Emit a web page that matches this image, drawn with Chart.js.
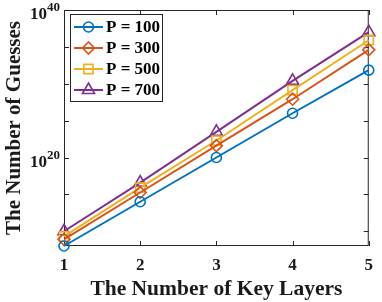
<!DOCTYPE html>
<html><head><meta charset="utf-8">
<script src="https://cdn.jsdelivr.net/npm/chart.js@4/dist/chart.umd.min.js"></script>
<style>html,body{margin:0;padding:0;background:#fff}#wrap{width:382px;height:302px}</style>
</head><body><div id="wrap"><canvas id="c" width="382" height="302"></canvas></div>
<script>
const layers = ['1','2','3','4','5'];
const seriesLabels = ['P = 100','P = 300','P = 500','P = 700'];
const p100 = [1e8, 1e14, 1e20, 1e26, 7e31];
const p300 = [8e8, 1.8e15, 4e21, 8e27, 4e34];
const p500 = [2e9, 8e15, 2e22, 1.4e29, 8e35];
const p700 = [1e10, 4e16, 3e23, 2.5e30, 1e37];
const yTickValues = [1e10, 1e15, 1e20, 1e25, 1e30, 1e35, 1e40];
const yTickLabelValues = [1e20, 1e40];
const xTitle = 'The Number of Key Layers';
const yTitle = 'The Number of Guesses';

const colors = ['#0072BD', '#D95319', '#EDB120', '#7E2F8E'];
const styles = ['circle', 'rectRot', 'rect', 'triangle'];
const radii = [5, 6, 6.5, 7];
const FONT = '"Liberation Serif", "Times New Roman", serif';
const AX = '#262626';
const TXT = '#1a1a1a';

const allSeries = [p100, p300, p500, p700];
const datasets = allSeries.map((d, i) => ({
  label: seriesLabels[i], data: d,
  borderColor: colors[i], backgroundColor: 'rgba(0,0,0,0)',
  borderWidth: 2, pointStyle: styles[i], pointRadius: radii[i],
  pointBorderWidth: 1.6, pointBackgroundColor: 'rgba(0,0,0,0)',
  pointBorderColor: colors[i], tension: 0, clip: false
}));

function marker(ctx, style, r, x, y) {
  ctx.beginPath();
  if (style === 'circle') { ctx.arc(x, y, r, 0, Math.PI * 2); }
  else if (style === 'rectRot') { ctx.moveTo(x - r, y); ctx.lineTo(x, y - r); ctx.lineTo(x + r, y); ctx.lineTo(x, y + r); ctx.closePath(); }
  else if (style === 'rect') { const s = r * Math.SQRT1_2; ctx.rect(x - s, y - s, 2 * s, 2 * s); }
  else if (style === 'triangle') {
    for (let k = 0; k < 3; k++) { const a = -Math.PI / 2 + k * 2 * Math.PI / 3; const px = x + r * Math.cos(a), py = y + r * Math.sin(a); k ? ctx.lineTo(px, py) : ctx.moveTo(px, py); }
    ctx.closePath();
  }
  ctx.stroke();
}

const framePlugin = {
  id: 'frame',
  beforeDatasetsDraw(chart) {
    const ctx = chart.ctx, a = chart.chartArea;
    const xs = chart.scales.x, ys = chart.scales.y;
    ctx.save();
    ctx.strokeStyle = AX; ctx.lineWidth = 1;
    ctx.strokeRect(a.left + 0.5, a.top + 0.5, a.right - a.left - 1, a.bottom - a.top - 1);
    ctx.beginPath();
    const tl = 5;
    layers.forEach((l, i) => {
      const x = Math.round(xs.getPixelForValue(i)) + 0.5;
      ctx.moveTo(x, a.bottom); ctx.lineTo(x, a.bottom - tl);
      ctx.moveTo(x, a.top); ctx.lineTo(x, a.top + tl);
    });
    yTickValues.forEach(v => {
      const y = Math.round(ys.getPixelForValue(v)) + 0.5;
      ctx.moveTo(a.left, y); ctx.lineTo(a.left + tl, y);
      ctx.moveTo(a.right, y); ctx.lineTo(a.right - tl, y);
    });
    ctx.stroke();
    ctx.restore();
  },
  afterDraw(chart) {
    const ctx = chart.ctx, a = chart.chartArea, ys = chart.scales.y;
    ctx.save();
    ctx.fillStyle = TXT; ctx.textBaseline = 'alphabetic';
    yTickLabelValues.forEach(v => {
      const y = ys.getPixelForValue(v);
      const exp = String(Math.round(Math.log10(v)));
      ctx.font = 'bold 13px ' + FONT;
      const we = ctx.measureText(exp).width;
      const right = a.left - 4;
      ctx.textAlign = 'left';
      ctx.fillText(exp, right - we, y + 1);
      ctx.font = 'bold 17px ' + FONT;
      ctx.textAlign = 'right';
      ctx.fillText('10', right - we, y + 9);
    });
    const lx = 70, ly = 14, lw = 92, lh = 87;
    ctx.fillStyle = '#fff'; ctx.fillRect(lx, ly, lw, lh);
    ctx.strokeStyle = AX; ctx.lineWidth = 1; ctx.strokeRect(lx + 0.5, ly + 0.5, lw, lh);
    const rows = [27, 48, 69, 90];
    chart.data.datasets.forEach((ds, i) => {
      const y = rows[i];
      ctx.strokeStyle = ds.borderColor; ctx.lineWidth = 2;
      ctx.beginPath(); ctx.moveTo(74, y); ctx.lineTo(103, y); ctx.stroke();
      ctx.lineWidth = 1.6;
      marker(ctx, ds.pointStyle, ds.pointRadius, 88.5, y);
      ctx.fillStyle = '#000'; ctx.font = 'bold 17px ' + FONT;
      ctx.textAlign = 'left'; ctx.textBaseline = 'middle';
      ctx.fillText(ds.label, 106, y + 1);
    });
    ctx.restore();
  }
};

new Chart(document.getElementById('c'), {
  type: 'line',
  data: { labels: layers, datasets },
  options: {
    responsive: false, animation: false, devicePixelRatio: 1,
    layout: { padding: { top: 10, right: 8, left: 0, bottom: 0 } },
    plugins: { legend: { display: false }, tooltip: { enabled: false } },
    scales: {
      x: {
        type: 'category', offset: false,
        grid: { display: false, drawTicks: false }, border: { display: false },
        ticks: { color: TXT, font: { family: FONT, size: 17, weight: 'bold' }, padding: 9, maxRotation: 0, autoSkip: false },
        title: { display: true, text: xTitle, color: TXT, font: { family: FONT, size: 21.5, weight: 'bold' }, padding: { top: 0, bottom: 0 } },
        afterFit(s) { s.height = 56; }
      },
      y: {
        type: 'logarithmic', min: 1e8, max: 1e40,
        grid: { display: false, drawTicks: false }, border: { display: false },
        afterBuildTicks(s) { s.ticks = yTickValues.map(v => ({ value: v })); },
        ticks: { callback: () => '', padding: 0 },
        title: { display: true, text: yTitle, color: TXT, font: { family: FONT, size: 21, weight: 'bold' }, padding: { top: 2, bottom: 0 } },
        afterFit(s) { s.width = 64; }
      }
    }
  },
  plugins: [framePlugin]
});
</script></body></html>
